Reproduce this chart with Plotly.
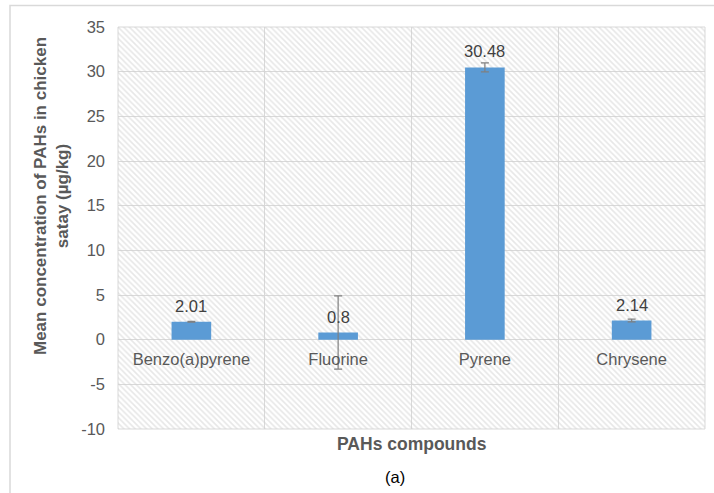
import plotly.graph_objects as go

# PAH compounds and their mean concentrations in chicken satay (µg/kg)
compounds = ["Benzo(a)pyrene", "Fluorine", "Pyrene", "Chrysene"]
mean_conc = [2.01, 0.8, 30.48, 2.14]
err_conc = [0.05, 4.1, 0.5, 0.15]

# value axis ticks (hyphen-minus labels)
y_ticks = [-10, -5, 0, 5, 10, 15, 20, 25, 30, 35]
y_tick_labels = ["-10", "-5", "0", "5", "10", "15", "20", "25", "30", "35"]

W, H = 714, 493
ML, MR, MT, MB = 118, 9, 27, 64
plot_w = W - ML - MR
plot_h = H - MT - MB

FONT = "Arial, Liberation Sans, sans-serif"
GRID = "#d9d9d9"
TXT = "#595959"

y_min, y_max = min(y_ticks), max(y_ticks)

fig = go.Figure()

# hatched plot-area background, one full-width band per category
fig.add_trace(go.Bar(
    x=compounds,
    y=[y_max - y_min] * len(compounds),
    base=y_min,
    width=1,
    marker=dict(
        color="rgba(0,0,0,0)",
        line=dict(width=0),
        pattern=dict(shape="\\", fgcolor="#cfcfcf", bgcolor="rgba(0,0,0,0)",
                     size=4, solidity=0.4),
    ),
    hoverinfo="skip",
    showlegend=False,
))

# mean concentration bars with error bars
fig.add_trace(go.Bar(
    x=compounds,
    y=mean_conc,
    width=0.27,
    marker=dict(color="#5b9bd5", line=dict(width=0)),
    error_y=dict(type="data", array=err_conc, visible=True,
                 color="#808080", thickness=1.2, width=4),
    hoverinfo="skip",
    showlegend=False,
))

# value labels placed just above each bar
value_labels = [
    dict(text=f"{v:g}", x=c, y=v, xref="x", yref="y",
         xanchor="center", yanchor="bottom", yshift=5, showarrow=False,
         font=dict(family=FONT, size=16.5, color="#404040"))
    for c, v in zip(compounds, mean_conc)
]

zero_pos = (0 - y_min) / (y_max - y_min)

fig.update_layout(
    width=W, height=H,
    autosize=False,
    margin=dict(l=ML, r=MR, t=MT, b=MB),
    paper_bgcolor="white",
    plot_bgcolor="white",
    barmode="overlay",
    font=dict(family=FONT, color=TXT),
    xaxis=dict(
        type="category",
        tickson="boundaries",
        showgrid=True, gridcolor=GRID, gridwidth=1,
        ticks="",
        showline=False,
        zeroline=False,
        anchor="free",
        position=zero_pos,
        tickfont=dict(family=FONT, size=16.5, color=TXT),
        ticklabelstandoff=8,
        range=[-0.5, len(compounds) - 0.5],
    ),
    yaxis=dict(
        range=[y_min, y_max],
        tickmode="array", tickvals=y_ticks, ticktext=y_tick_labels,
        showgrid=True, gridcolor=GRID, gridwidth=1,
        zeroline=False,
        showline=False,
        ticks="",
        tickfont=dict(family=FONT, size=16.5, color=TXT),
        ticklabelstandoff=12,
    ),
    shapes=[
        # plot-area frame
        dict(type="rect", xref="x domain", yref="y domain", x0=0, x1=1, y0=0, y1=1,
             line=dict(color=GRID, width=1), layer="below"),
        # outer chart frame
        dict(type="rect", xref="paper", yref="paper",
             x0=(10 - ML) / plot_w, x1=(W + 6 - ML) / plot_w,
             y0=(MT + plot_h - (H + 6)) / plot_h, y1=(MT + plot_h - 5.5) / plot_h,
             line=dict(color=GRID, width=1.5), layer="below"),
    ],
    annotations=value_labels + [
        dict(text="Mean concentration of PAHs in chicken<br>satay (µg/kg)",
             xref="paper", yref="paper",
             x=(51 - ML) / plot_w, y=(MT + plot_h - 196) / plot_h,
             xanchor="center", yanchor="middle", textangle=-90, showarrow=False,
             font=dict(family=FONT, size=17, color=TXT, weight="bold")),
        dict(text="PAHs compounds",
             xref="paper", yref="paper",
             x=(412 - ML) / plot_w, y=(MT + plot_h - 444) / plot_h,
             xanchor="center", yanchor="middle", showarrow=False,
             font=dict(family=FONT, size=17.5, color=TXT, weight="bold")),
        dict(text="(a)",
             xref="paper", yref="paper",
             x=(395 - ML) / plot_w, y=(MT + plot_h - 477) / plot_h,
             xanchor="center", yanchor="middle", showarrow=False,
             font=dict(family=FONT, size=16.5, color="#000000")),
    ],
)

fig.write_html("out.html")
